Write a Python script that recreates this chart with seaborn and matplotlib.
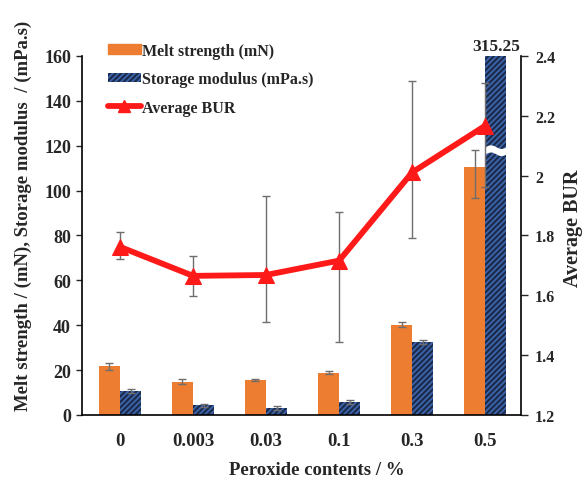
import numpy as np
import pandas as pd
import matplotlib
matplotlib.use("Agg")
import matplotlib.pyplot as plt
import seaborn as sns
from matplotlib.ticker import FuncFormatter, MultipleLocator
from matplotlib.patches import Patch
from matplotlib.lines import Line2D

# Data
peroxide = ["0", "0.003", "0.03", "0.1", "0.3", "0.5"]
melt_strength = [21.7, 14.9, 15.5, 18.9, 40.3, 110.4]
melt_strength_err_lo = [1.5, 1.3, 0.5, 0.7, 1.1, 13.8]
melt_strength_err_hi = [1.5, 1.3, 0.5, 0.7, 1.1, 7.7]
storage_modulus = [10.7, 4.3, 3.0, 5.8, 32.7, 315.25]
storage_modulus_err = [0.8, 0.8, 1.0, 0.9, 0.9, 0.0]
avg_bur = [1.762, 1.665, 1.668, 1.716, 2.011, 2.167]
avg_bur_err_lo = [0.040, 0.067, 0.157, 0.272, 0.218, 0.205]
avg_bur_err_hi = [0.050, 0.068, 0.264, 0.164, 0.306, 0.142]

sns.set_style("white")
plt.rcParams["font.family"] = ["Liberation Serif", "DejaVu Serif"]
plt.rcParams["font.weight"] = "bold"
plt.rcParams["hatch.linewidth"] = 1.6

orange = "#ED7D31"
navy_face = "#3E67AE"
navy_hatch = "#1B2B4D"
red = "#FF1A1A"
err_col = "#6E6E6E"

fig = plt.figure(figsize=(5.87, 4.85), dpi=100)
ax = fig.add_axes([0.1397, 0.1423, 0.7479, 0.7402])

series_ms = "Melt strength (mN)"
series_sm = "Storage modulus (mPa.s)"
df = pd.DataFrame({
    "Peroxide": peroxide * 2,
    "value": melt_strength + storage_modulus,
    "series": [series_ms] * len(peroxide) + [series_sm] * len(peroxide),
})

sns.barplot(data=df, x="Peroxide", y="value", hue="series", order=peroxide,
            hue_order=[series_ms, series_sm], palette=[orange, navy_face],
            width=0.58, errorbar=None, ax=ax, legend=False, saturation=1.0,
            zorder=2)

n = len(peroxide)
ms_patches = ax.patches[:n]
sm_patches = ax.patches[n:2 * n]
for p in ms_patches:
    p.set_edgecolor(orange)
    p.set_linewidth(0)
for p in sm_patches:
    p.set_hatch("//////")
    p.set_edgecolor(navy_hatch)
    p.set_linewidth(0)

ms_x = [p.get_x() + p.get_width() / 2 for p in ms_patches]
sm_x = [p.get_x() + p.get_width() / 2 for p in sm_patches]
ax.errorbar(ms_x, melt_strength, yerr=[melt_strength_err_lo, melt_strength_err_hi],
            fmt="none", ecolor=err_col, elinewidth=1.0, capsize=3, capthick=1.0,
            zorder=3)
sm_err_idx = [i for i in range(n) if storage_modulus_err[i] > 0]
ax.errorbar([sm_x[i] for i in sm_err_idx], [storage_modulus[i] for i in sm_err_idx],
            yerr=[storage_modulus_err[i] for i in sm_err_idx], fmt="none",
            ecolor=err_col, elinewidth=1.0, capsize=3, capthick=1.0, zorder=3)

ax.set_ylim(0, 160)
ax.set_xlim(-0.52, 5.49)
ax.yaxis.set_major_locator(MultipleLocator(20))

# Axis break on the off-scale storage modulus bar
tall = sm_patches[-1]
bx0, bw = tall.get_x(), tall.get_width()
xs = np.linspace(bx0 - 0.01, bx0 + bw + 0.01, 40)
t = (xs - bx0) / bw
wave = 0.8 * np.sin(t * 2 * np.pi)
ax.fill_between(xs, 116.4 + wave, 119.6 + wave, color="white", zorder=4, lw=0)
ax.text(bx0 + bw / 2, 161.0, f"{storage_modulus[-1]:.2f}", ha="center",
        va="bottom", fontsize=12.5, fontweight="bold")

# Secondary axis: average blow-up ratio
ax2 = ax.twinx()
xpos = np.arange(n)
ax2.errorbar(xpos, avg_bur, yerr=[avg_bur_err_lo, avg_bur_err_hi], fmt="none",
             ecolor=err_col, elinewidth=1.0, capsize=3, capthick=1.0, zorder=1)
sns.lineplot(x=xpos, y=avg_bur, ax=ax2, color=red, lw=4.2, marker="^",
             markersize=11, markeredgecolor=red, zorder=5)
ax2.set_ylim(1.2, 2.4)
ax2.yaxis.set_major_locator(MultipleLocator(0.2))
ax2.yaxis.set_major_formatter(FuncFormatter(lambda v, _: f"{v:g}"))

# Spines and ticks
for a in (ax, ax2):
    a.spines["top"].set_visible(False)
ax.spines["right"].set_visible(False)
ax2.spines["left"].set_visible(False)
ax2.spines["bottom"].set_visible(False)
for s in ("left", "bottom"):
    ax.spines[s].set_color("black")
    ax.spines[s].set_linewidth(1.2)
ax2.spines["right"].set_color("black")
ax2.spines["right"].set_linewidth(1.2)

ax.tick_params(axis="y", direction="out", length=4, width=1, left=True,
               labelsize=13, pad=4)
ax.tick_params(axis="x", length=0, labelsize=13.5, pad=12)
ax2.tick_params(axis="y", direction="out", length=5, width=1, right=True,
                labelsize=11.5, pad=5)
for lab in ax.get_xticklabels() + ax.get_yticklabels() + ax2.get_yticklabels():
    lab.set_fontweight("bold")

ax.set_xlabel("Peroxide contents / %", fontsize=13.5, fontweight="bold")
ax.xaxis.set_label_coords(0.535, -0.128)
ax.set_ylabel("Melt strength / (mN), Storage modulus  / (mPa.s)", fontsize=13.5,
              fontweight="bold")
ax.yaxis.set_label_coords(-0.114, 0.557)
ax2.set_ylabel("Average BUR", fontsize=14.5, fontweight="bold")
ax2.yaxis.set_label_coords(1.096, 0.524)

# Legend
handles = [
    Patch(facecolor=orange, edgecolor=orange, label=series_ms),
    Patch(facecolor=navy_face, edgecolor=navy_hatch, hatch="//////", lw=0,
          label=series_sm),
    Line2D([0], [0], color=red, lw=4.2, marker="^", markersize=9,
           label="Average BUR"),
]
leg = ax.legend(handles=handles, loc="upper left", bbox_to_anchor=(0.044, 1.055),
                frameon=False, fontsize=11.5, handlelength=2.1, handleheight=0.5,
                handletextpad=0.05, labelspacing=0.78, borderaxespad=0)
for txt in leg.get_texts():
    txt.set_fontweight("bold")

fig.savefig("out.png", dpi=100)
